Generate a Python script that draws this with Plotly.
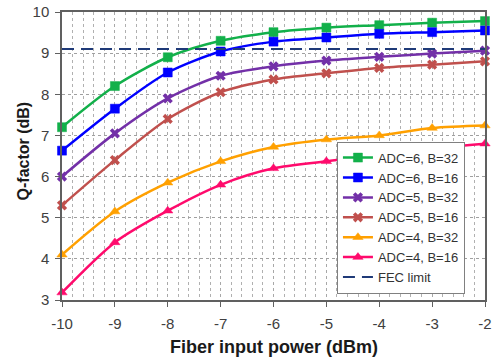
import plotly.graph_objects as go

power = [-10, -9, -8, -7, -6, -5, -4, -3, -2]
x_tick_labels = ["-10", "-9", "-8", "-7", "-6", "-5", "-4", "-3", "-2"]
y_ticks = [3, 4, 5, 6, 7, 8, 9, 10]

adc6_b32 = [7.2, 8.2, 8.9, 9.3, 9.51, 9.62, 9.68, 9.74, 9.78]
adc6_b16 = [6.63, 7.65, 8.53, 9.04, 9.28, 9.38, 9.47, 9.51, 9.55]
adc5_b32 = [6.0, 7.05, 7.9, 8.45, 8.68, 8.82, 8.91, 8.99, 9.06]
adc5_b16 = [5.3, 6.4, 7.4, 8.05, 8.36, 8.51, 8.64, 8.72, 8.8]
adc4_b32 = [4.1, 5.15, 5.85, 6.37, 6.72, 6.9, 7.0, 7.18, 7.24]
adc4_b16 = [3.18, 4.4, 5.17, 5.8, 6.2, 6.37, 6.53, 6.68, 6.8]
fec_limit = 9.1

series = [
    ("ADC=6, B=32", adc6_b32, "#12b04a", "square"),
    ("ADC=6, B=16", adc6_b16, "#0000ff", "square"),
    ("ADC=5, B=32", adc5_b32, "#7330a8", "x"),
    ("ADC=5, B=16", adc5_b16, "#c0504d", "x"),
    ("ADC=4, B=32", adc4_b32, "#ffa000", "triangle-up"),
    ("ADC=4, B=16", adc4_b16, "#ff0a6c", "triangle-up"),
]

fig = go.Figure()
for name, ys, color, sym in series:
    fig.add_trace(go.Scatter(
        x=power, y=ys, name=name, mode="lines+markers",
        line=dict(color=color, width=2.5, shape="spline", smoothing=0.8),
        marker=dict(symbol=sym, size=9, color=color,
                    line=dict(width=0.5 if sym != "x" else 0, color=color)),
        cliponaxis=False,
    ))

fig.add_trace(go.Scatter(
    x=[power[0], power[-1]], y=[fec_limit, fec_limit], name="FEC limit",
    mode="lines", line=dict(color="#1f3a78", width=2, dash="12px,7px"),
))

font = "Liberation Sans, Arial, sans-serif"
fig.update_layout(
    width=494, height=360,
    margin=dict(l=62, r=9, t=12, b=60, autoexpand=False),
    paper_bgcolor="white", plot_bgcolor="white",
    font=dict(family=font, size=15, color="#404040"),
    showlegend=True,
    legend=dict(
        x=0.65, y=0.022, xanchor="left", yanchor="bottom",
        bgcolor="white", bordercolor="#808080", borderwidth=1,
        font=dict(family=font, size=13, color="#333333"),
        tracegroupgap=0, itemwidth=30,
    ),
    xaxis=dict(
        range=[-10, -2], tickvals=power, ticktext=x_tick_labels,
        showline=True, linecolor="#606060", linewidth=1.5, mirror=True,
        ticks="outside", ticklen=5, tickcolor="#606060",
        showgrid=True, gridcolor="#a8a8a8", griddash="dot", gridwidth=1,
        minor=dict(dtick=0.2, tick0=-10, showgrid=True, gridcolor="#b0b0b0", griddash="dot", gridwidth=1),
        zeroline=False, automargin=False, ticklabelstandoff=4,
        tickfont=dict(size=15, color="#404040"),
    ),
    yaxis=dict(
        range=[3, 10], tickvals=y_ticks,
        showline=True, linecolor="#606060", linewidth=1.5, mirror=True,
        ticks="outside", ticklen=5, tickcolor="#606060",
        showgrid=True, gridcolor="#a0a0a0", griddash="dot", gridwidth=1,
        zeroline=False, automargin=False, ticklabelstandoff=3,
        tickfont=dict(size=15, color="#404040"),
    ),
    annotations=[
        dict(text="<b>Fiber input power (dBm)</b>", xref="paper", yref="paper",
             x=0.5, y=-0.163, xanchor="center", yanchor="middle", showarrow=False,
             font=dict(family=font, size=18, color="#1a1a1a")),
        dict(text="<b>Q-factor (dB)</b>", xref="paper", yref="paper",
             x=-0.09, y=0.519, xanchor="center", yanchor="middle", showarrow=False,
             textangle=-90, font=dict(family=font, size=16, color="#1a1a1a")),
    ],
)

fig.write_html(
    "out.html",
    config={"displayModeBar": False},
    post_script="document.body.style.margin='0';document.body.style.overflow='hidden';",
)
